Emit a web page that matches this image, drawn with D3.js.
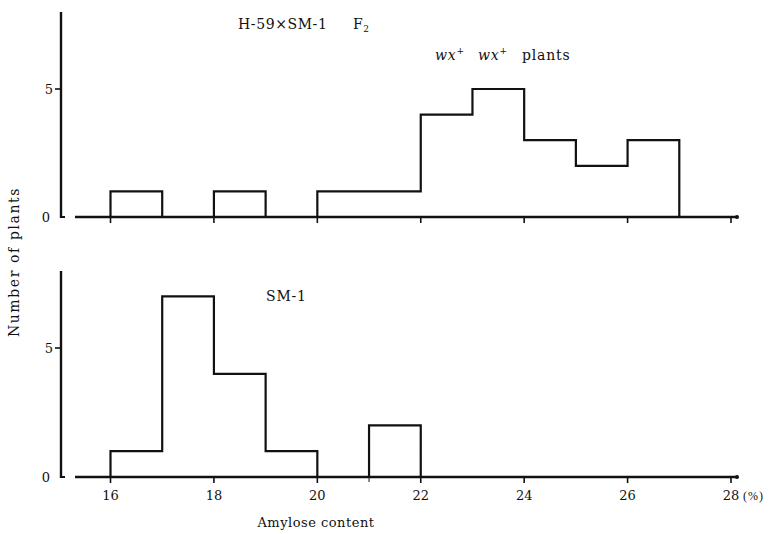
<!DOCTYPE html>
<html>
<head>
<meta charset="utf-8">
<script src="https://cdn.jsdelivr.net/npm/d3@7"></script>
<style>
  html, body { margin: 0; padding: 0; background: #fff; }
  svg { display: block; }
  text { font-family: "Liberation Serif", "DejaVu Serif", serif; fill: #111; }
  text.wide { font-family: "DejaVu Serif", "Liberation Serif", serif; }
</style>
</head>
<body>
<svg id="chart" width="776" height="534"></svg>
<script>
// Amylose content bins (% lower edge, each 1% wide)
const binStarts = [16, 17, 18, 19, 20, 21, 22, 23, 24, 25, 26];
// F2 plants of H-59 x SM-1 (wx+ wx+)
const f2Counts = [1, 0, 1, 0, 1, 1, 4, 5, 3, 2, 3];
// SM-1 parent
const smBinStarts = [16, 17, 18, 19, 20, 21];
const smCounts = [1, 7, 4, 1, 0, 2];
const xTicks = [16, 18, 20, 22, 24, 26, 28];
const yTicks = [0, 5];

const svg = d3.select("#chart");
const x = d3.scaleLinear().domain([16, 28]).range([110.5, 731]);

const panels = [
  { starts: binStarts, counts: f2Counts, y0: 217, y5: 89, top: 12 },
  { starts: smBinStarts, counts: smCounts, y0: 477, y5: 348, top: 271 }
];

panels.forEach((p, i) => {
  const y = d3.scaleLinear().domain([0, 5]).range([p.y0, p.y5]);
  const g = svg.append("g");

  // vertical axis
  g.append("line").attr("x1", 61).attr("x2", 61).attr("y1", p.top).attr("y2", p.y0 + 1)
    .attr("stroke", "#111").attr("stroke-width", 2.4);
  g.append("line").attr("x1", 60).attr("x2", 65).attr("y1", p.y0).attr("y2", p.y0)
    .attr("stroke", "#111").attr("stroke-width", 2);
  yTicks.forEach(t => {
    if (t > 0) {
      g.append("line").attr("x1", 55).attr("x2", 61).attr("y1", y(t)).attr("y2", y(t))
        .attr("stroke", "#111").attr("stroke-width", 1.6);
    }
    g.append("text").attr("class", "wide").attr("x", t === 0 ? 50 : 53).attr("y", y(t) + 5)
      .attr("text-anchor", "end").attr("font-size", 13).text(t);
  });

  // baseline
  g.append("line").attr("x1", 75).attr("x2", 737).attr("y1", p.y0).attr("y2", p.y0)
    .attr("stroke", "#111").attr("stroke-width", 2.4);
  g.append("circle").attr("cx", 737).attr("cy", p.y0).attr("r", 2).attr("fill", "#111");

  // ticks
  xTicks.forEach(t => {
    g.append("line").attr("x1", x(t)).attr("x2", x(t)).attr("y1", p.y0).attr("y2", p.y0 + 6)
      .attr("stroke", "#111").attr("stroke-width", 1.6);
  });
  if (i === 1) {
    g.append("line").attr("x1", x(21)).attr("x2", x(21)).attr("y1", p.y0).attr("y2", p.y0 + 5)
      .attr("stroke", "#111").attr("stroke-width", 1);
  }

  // histogram outline as a step path
  const path = d3.path();
  path.moveTo(x(p.starts[0]), y(0));
  p.starts.forEach((s, k) => {
    path.lineTo(x(s), y(p.counts[k]));
    path.lineTo(x(s + 1), y(p.counts[k]));
  });
  path.lineTo(x(p.starts[p.starts.length - 1] + 1), y(0));
  g.append("path").attr("d", path.toString()).attr("fill", "none")
    .attr("stroke", "#111").attr("stroke-width", 2.2).attr("stroke-linejoin", "miter");
});

// x tick labels
xTicks.forEach(t => {
  svg.append("text").attr("class", "wide").attr("x", x(t)).attr("y", 500)
    .attr("text-anchor", "middle").attr("font-size", 13).text(t);
});
svg.append("text").attr("x", x(28) + 12).attr("y", 500).attr("font-size", 12)
  .attr("letter-spacing", 1).attr("fill", "#666").text("(%)");

// axis titles
svg.append("text").attr("class", "wide").attr("x", 316).attr("y", 527)
  .attr("text-anchor", "middle").attr("font-size", 13).attr("letter-spacing", 0.5)
  .text("Amylose content");
svg.append("text").attr("class", "wide").attr("transform", "translate(19,262) rotate(-90)")
  .attr("text-anchor", "middle").attr("font-size", 14).attr("letter-spacing", 1.6)
  .text("Number of plants");

// panel annotations
const t1 = svg.append("text").attr("class", "wide").attr("x", 238).attr("y", 29)
  .attr("font-size", 14).attr("letter-spacing", 0.6);
t1.append("tspan").text("H-59×SM-1");
t1.append("tspan").attr("x", 353).text("F");
t1.append("tspan").attr("font-size", 9).attr("dy", 3).text("2");

const t2 = svg.append("text").attr("class", "wide").attr("x", 435).attr("y", 60)
  .attr("font-size", 14).attr("letter-spacing", 0.8);
t2.append("tspan").attr("font-style", "italic").text("wx");
t2.append("tspan").attr("font-size", 9).attr("dy", -6).text("+");
t2.append("tspan").attr("x", 478).attr("dy", 6).attr("font-style", "italic").text("wx");
t2.append("tspan").attr("font-size", 9).attr("dy", -6).text("+");
t2.append("tspan").attr("x", 522).attr("dy", 6).text("plants");

svg.append("text").attr("class", "wide").attr("x", 266).attr("y", 301)
  .attr("font-size", 14).attr("letter-spacing", 0.8).text("SM-1");
</script>
</body>
</html>
